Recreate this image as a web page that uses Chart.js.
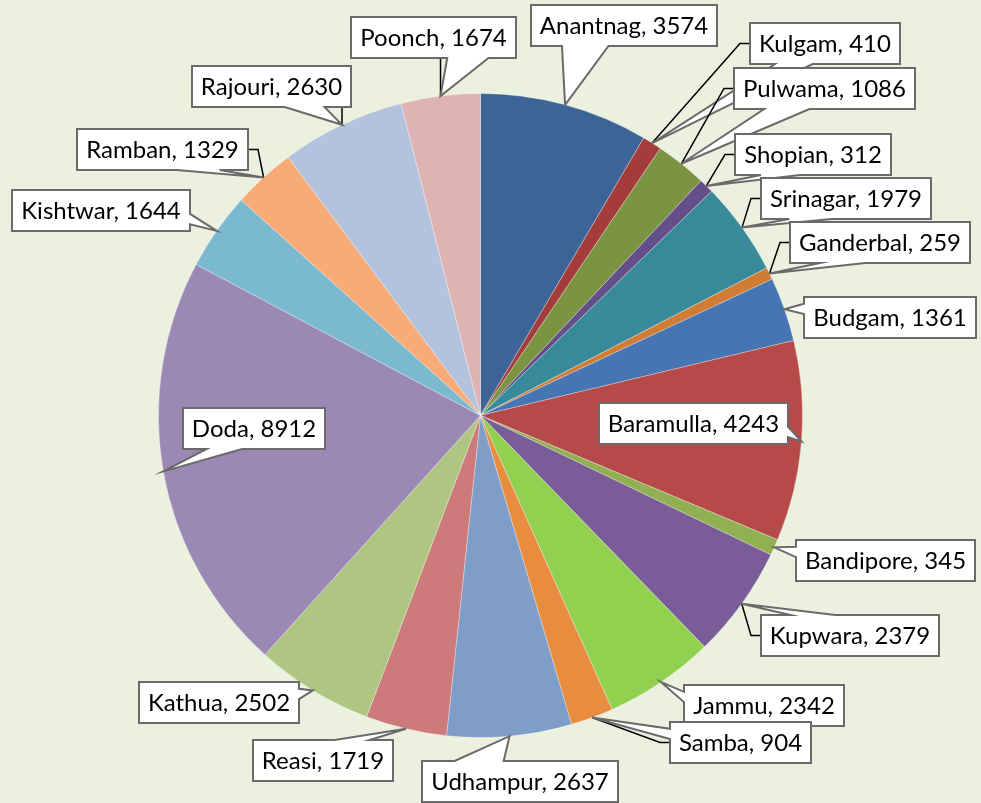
<!DOCTYPE html>
<html>
<head>
<meta charset="utf-8">
<script src="https://cdn.jsdelivr.net/npm/chart.js@4"></script>
<style>
  html, body { margin: 0; padding: 0; background: #EBF1DE; }
  #wrap { width: 981px; height: 803px; }
  canvas { display: block; }
</style>
</head>
<body>
<div id="wrap"><canvas id="c" width="981" height="803"></canvas></div>
<script>
// ---- data ----
const districts = ['Anantnag','Kulgam','Pulwama','Shopian','Srinagar','Ganderbal','Budgam',
  'Baramulla','Bandipore','Kupwara','Jammu','Samba','Udhampur','Reasi','Kathua','Doda',
  'Kishtwar','Ramban','Rajouri','Poonch'];
const cases = [3574,410,1086,312,1979,259,1361,4243,345,2379,2342,904,2637,1719,2502,8912,
  1644,1329,2630,1674];
const sliceColors = ['#3C6496','#A33C3A','#7A9442','#644F8A','#388A9B','#D07D33','#4775B4',
  '#B64A48','#91B054','#7A5C98','#92D050','#E88D40','#7F9DC9','#CC7B7A','#AFC682','#9B88B4',
  '#7AB9D0','#F8AB77','#B4C3DD','#DDB4B3'];

// ---- label layout (box centre x, box top y) ----
const labelPos = [[624,5],[825,23],[824,68],[813,134],[846,178],[880,222],[890,297],
  [693,403],[885,540],[850,615],[764,685],[740,722],[520,761],[323,740],[219,682],[254,408],
  [101,190],[162,129],[271,66],[433,17]];
const withLeader = ['Kulgam','Pulwama','Shopian','Srinagar','Ganderbal','Kupwara','Samba',
  'Ramban','Rajouri','Poonch'];

const FONT = '24px Lato';
const PADX = 9, BOX_H = 41;

const calloutPlugin = {
  id: 'callouts',
  afterDatasetsDraw(chart) {
    const ctx = chart.ctx;
    const meta = chart.getDatasetMeta(0);
    ctx.save();
    ctx.font = FONT;
    meta.data.forEach((arc, i) => {
      const p = arc.getProps(['x','y','startAngle','endAngle','outerRadius'], true);
      const mid = (p.startAngle + p.endAngle) / 2;
      const ax = p.x + Math.cos(mid) * p.outerRadius;
      const ay = p.y + Math.sin(mid) * p.outerRadius;
      const text = districts[i] + ', ' + cases[i];
      const tw = ctx.measureText(text).width;
      const w = Math.round(tw + 2 * PADX), h = BOX_H;
      const x0 = Math.round(labelPos[i][0] - w / 2), y0 = labelPos[i][1];
      const x1 = x0 + w, y1 = y0 + h;
      const hc = x0 + w / 2, vc = y0 + h / 2;

      // leader line
      if (withLeader.includes(districts[i])) {
        ctx.beginPath();
        ctx.strokeStyle = '#000';
        ctx.lineWidth = 1.5;
        if (ax >= x0 && ax <= x1) {
          const ey = ay > y1 ? y1 : y0;
          ctx.moveTo(ax, ey); ctx.lineTo(ax, ay);
        } else if (ay >= y0 && ay <= y1) {
          const ex = ax > x1 ? x1 : x0;
          ctx.moveTo(ex, ay); ctx.lineTo(ax, ay);
        } else {
          const ex = ax > x1 ? x1 : x0;
          const sx = ax > x1 ? x1 + 10 : x0 - 10;
          ctx.moveTo(ex, vc); ctx.lineTo(sx, vc); ctx.lineTo(ax, ay);
        }
        ctx.stroke();
      }

      // wedge callout path
      const dx = ax - hc, dy = ay - vc;
      const dq = dx * h / w;
      const inside = ax >= x0 && ax <= x1 && ay >= y0 && ay <= y1;
      let side = null;
      if (!inside) {
        if (Math.abs(dy) > Math.abs(dq)) side = dy < 0 ? 'top' : 'bottom';
        else side = dx < 0 ? 'left' : 'right';
      }
      let bx = (dx < 0) ? [x0 + w / 6, x0 + 5 * w / 12] : [x0 + 7 * w / 12, x0 + 5 * w / 6];
      let by = (dy < 0) ? [y0 + h / 6, y0 + 5 * h / 12] : [y0 + 7 * h / 12, y0 + 5 * h / 6];
      ctx.beginPath();
      ctx.moveTo(x0, y0);
      if (side === 'top') { ctx.lineTo(bx[0], y0); ctx.lineTo(ax, ay); ctx.lineTo(bx[1], y0); }
      ctx.lineTo(x1, y0);
      if (side === 'right') { ctx.lineTo(x1, by[0]); ctx.lineTo(ax, ay); ctx.lineTo(x1, by[1]); }
      ctx.lineTo(x1, y1);
      if (side === 'bottom') { ctx.lineTo(bx[1], y1); ctx.lineTo(ax, ay); ctx.lineTo(bx[0], y1); }
      ctx.lineTo(x0, y1);
      if (side === 'left') { ctx.lineTo(x0, by[1]); ctx.lineTo(ax, ay); ctx.lineTo(x0, by[0]); }
      ctx.closePath();
      ctx.fillStyle = '#FFFFFF';
      ctx.fill();
      ctx.strokeStyle = '#6A6A6A';
      ctx.lineWidth = 2;
      ctx.lineJoin = 'miter';
      ctx.stroke();

      ctx.fillStyle = '#000';
      ctx.textAlign = 'center';
      ctx.textBaseline = 'middle';
      ctx.fillText(text, hc, vc + 1);
    });
    ctx.restore();
  }
};

new Chart(document.getElementById('c'), {
  type: 'pie',
  data: {
    labels: districts,
    datasets: [{
      data: cases,
      backgroundColor: sliceColors,
      borderColor: 'rgba(255,255,255,0.3)',
      borderWidth: 1
    }]
  },
  options: {
    responsive: false,
    animation: false,
    layout: { padding: { left: 158, top: 93, right: 178, bottom: 65 } },
    plugins: {
      legend: { display: false },
      tooltip: { enabled: false }
    }
  },
  plugins: [calloutPlugin]
});
</script>
</body>
</html>
